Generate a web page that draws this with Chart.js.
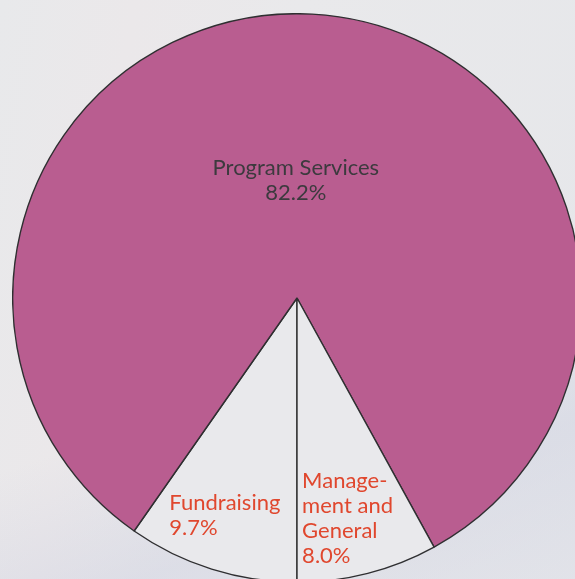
<!DOCTYPE html>
<html>
<head>
<meta charset="utf-8">
<script src="https://cdn.jsdelivr.net/npm/chart.js@4"></script>
<style>
  html, body { margin: 0; padding: 0; }
  body {
    width: 575px; height: 579px; overflow: hidden; position: relative;
    background:
      linear-gradient(160deg, rgba(255,255,255,0) 0%, rgba(255,255,255,0) 60%, rgba(205,208,225,0.45) 80%, rgba(215,217,230,0.3) 100%),
      linear-gradient(100deg, #e8e9eb 0%, #ebe8ea 20%, #e9e9eb 45%, #e6e7ea 100%);
  }
  #wrap { position: absolute; left: 12px; top: 13px; width: 570px; height: 570px; }
</style>
</head>
<body>
<div id="wrap"><canvas id="pie"></canvas></div>
<script>
// slices start at the bottom and run clockwise
const labels = ['Fundraising', 'Program Services', 'Management and General'];
const shares = [9.7, 82.2, 8.0];
const labelLines = [
  ['Fundraising', '9.7%'],
  ['Program Services', '82.2%'],
  ['Manage-', 'ment and', 'General', '8.0%']
];
const sliceColors = ['#e9e9ec', '#b95d90', '#e9e9ec'];
const textColors = ['#e0472e', '#3c3a3e', '#e0472e'];

// label placement as fractions of radius from the pie centre
const labelPos = [
  { dx: -0.449, dy: 0.744, align: 'left' },
  { dx: -0.004, dy: -0.432, align: 'center' },
  { dx: 0.018, dy: 0.667, align: 'left' }
];

const sliceLabels = {
  id: 'sliceLabels',
  afterDatasetsDraw(chart) {
    const arc = chart.getDatasetMeta(0).data[0];
    if (!arc) return;
    const { x, y, outerRadius } = arc;
    const ctx = chart.ctx;
    ctx.save();
    ctx.font = '22px Lato, "Open Sans", sans-serif';
    ctx.textBaseline = 'alphabetic';
    labelLines.forEach((lines, i) => {
      const p = labelPos[i];
      ctx.fillStyle = textColors[i];
      ctx.textAlign = p.align;
      lines.forEach((t, j) => {
        ctx.fillText(t, x + p.dx * outerRadius, y + p.dy * outerRadius + j * 25);
      });
    });
    ctx.restore();
  }
};

new Chart(document.getElementById('pie'), {
  type: 'pie',
  data: {
    labels,
    datasets: [{
      data: shares,
      backgroundColor: sliceColors,
      borderColor: '#2f2f31',
      borderWidth: 1.4,
      hoverOffset: 0
    }]
  },
  options: {
    responsive: true,
    maintainAspectRatio: false,
    animation: false,
    rotation: 180,
    layout: { padding: 0 },
    plugins: {
      legend: { display: false },
      tooltip: { enabled: false }
    }
  },
  plugins: [sliceLabels]
});
</script>
</body>
</html>
